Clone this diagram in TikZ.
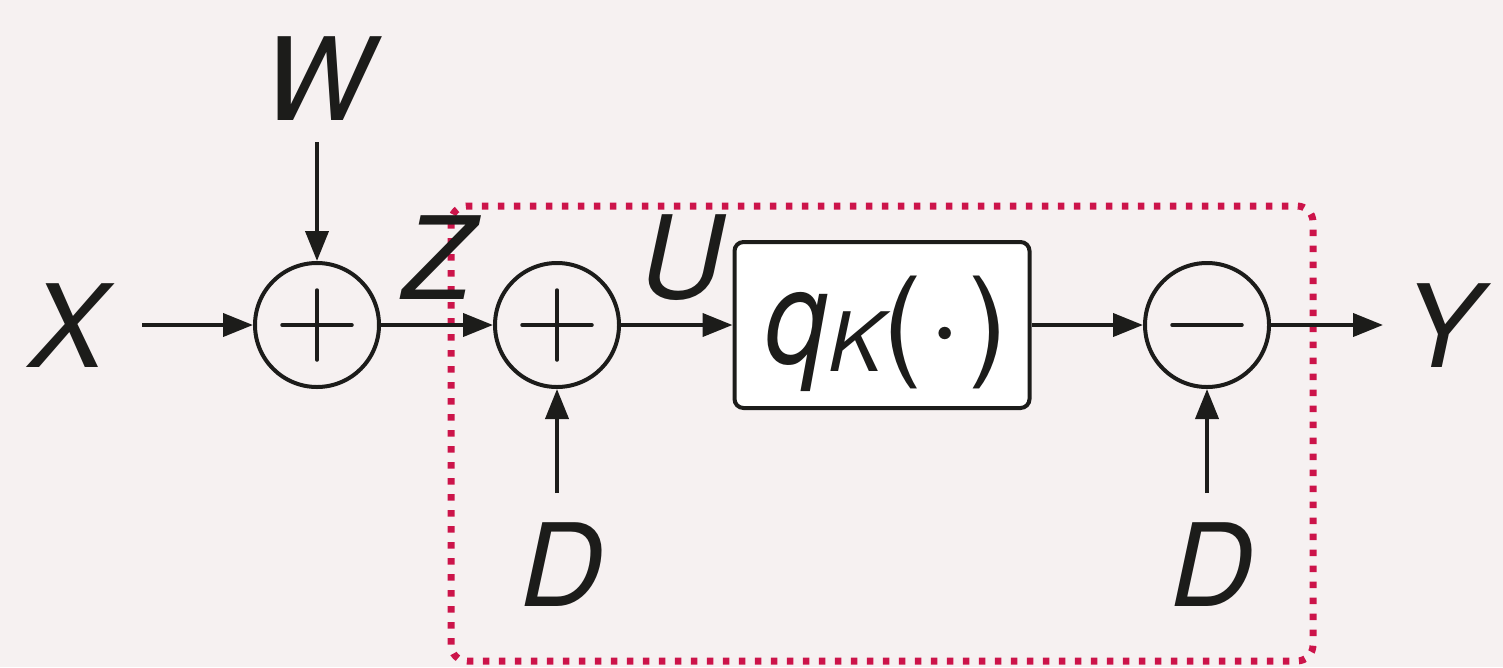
\documentclass[tikz,border=0pt]{standalone}
\usepackage{fontspec}
\usepackage{graphicx}
\setmainfont{TeX Gyre Heros}
\usetikzlibrary{arrows.meta}
\definecolor{bgc}{RGB}{246,241,241}
\definecolor{ink}{RGB}{28,28,26}
\definecolor{crim}{RGB}{204,20,74}
\tikzset{
  sumnode/.style={circle,draw=ink,line width=4pt,minimum size=124pt,inner sep=0pt},
  lbl/.style={inner sep=0pt,text=ink,font=\fontsize{115}{120}\selectfont\itshape},
  conn/.style={draw=ink,line width=4pt,-{Triangle[length=30pt,width=23pt]}},
  sign/.style={draw=ink,line width=3.5pt,line cap=round},
  qbox/.style={draw=ink,line width=4pt,rounded corners=9pt,minimum width=295pt,minimum height=166pt,inner sep=0pt,fill=white},
  dotbox/.style={draw=crim,line width=7pt,dash pattern=on 6.5pt off 9.5pt,rounded corners=16pt}
}
\begin{document}
\begin{tikzpicture}[x=1pt,y=-1pt]
\fill[bgc] (0,0) rectangle (1503,667);
\useasboundingbox (0,0) rectangle (1503,667);
% dotted region
\draw[dotbox] (451,206) rectangle (1313,661);
% labels
\node[lbl] (X) at (68,326) {X};
\node[lbl] (W) at (318,79) {W};
\node[lbl] (Z) at (438,258) {Z};
\node[lbl] (U) at (682,258) {U};
\node[lbl] (D1) at (562,565) {D};
\node[lbl] (D2) at (1212,565) {D};
\node[lbl] (Y) at (1442,326) {Y};
% summing junctions
\node[sumnode] (s1) at (317,325) {};
\node[sumnode] (s2) at (557,325) {};
\node[sumnode] (s3) at (1207,325) {};
\draw[sign] ([xshift=-35pt]s1.center) -- ([xshift=35pt]s1.center);
\draw[sign] ([yshift=-35pt]s1.center) -- ([yshift=35pt]s1.center);
\draw[sign] ([xshift=-35pt]s2.center) -- ([xshift=35pt]s2.center);
\draw[sign] ([yshift=-35pt]s2.center) -- ([yshift=35pt]s2.center);
\draw[sign] ([xshift=-35pt]s3.center) -- ([xshift=35pt]s3.center);
% quantizer box
\node[qbox] (q) at (882,325) {};
\node[inner sep=0pt,text=ink,anchor=base] (qtext) at (887,363)
  {\scalebox{0.85}[1]{\fontsize{132}{132}\selectfont\itshape q}\raisebox{-8pt}{\fontsize{82}{82}\selectfont\itshape K}\fontsize{120}{120}\selectfont(\kern6pt·\kern6pt)};
% connector start points
\coordinate (xin) at (142,325);
\coordinate (win) at (317,142);
\coordinate (d1in) at (557,493);
\coordinate (d2in) at (1207,493);
\coordinate (yout) at (1383,325);
% connectors
\draw[conn] (xin) -- (s1.west);
\draw[conn] (win) -- (s1.north);
\draw[conn] (s1.east) -- (s2.west);
\draw[conn] (d1in) -- (s2.south);
\draw[conn] (s2.east) -- (q.west);
\draw[conn] (q.east) -- (s3.west);
\draw[conn] (d2in) -- (s3.south);
\draw[conn] (s3.east) -- (yout);
\end{tikzpicture}
\end{document}
